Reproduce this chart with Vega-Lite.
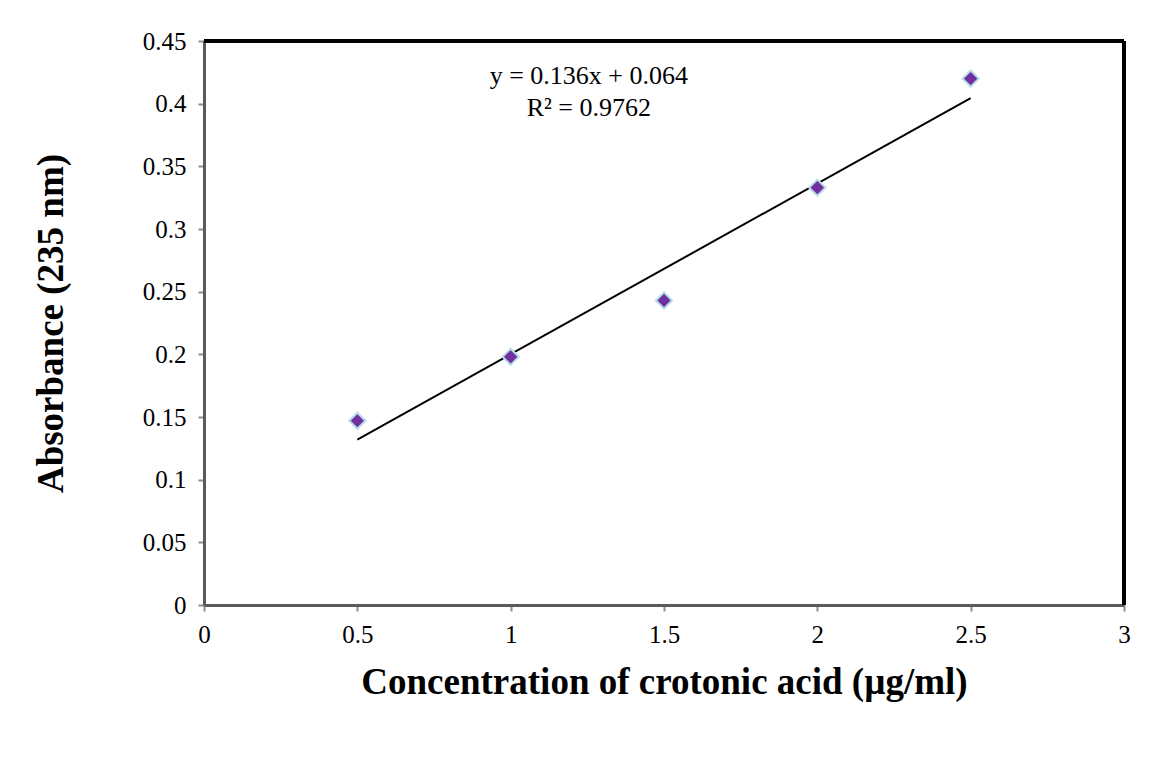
{
  "$schema": "https://vega.github.io/schema/vega-lite/v6.json",
  "width": 920,
  "height": 564,
  "autosize": {"type": "none"},
  "padding": {"left": 204, "top": 41, "right": 26, "bottom": 165},
  "background": "white",
  "config": {
    "view": {"stroke": null},
    "font": "Liberation Serif",
    "axis": {
      "labelFont": "Liberation Serif",
      "titleFont": "Liberation Serif",
      "labelFontSize": 25,
      "labelColor": "black",
      "titleColor": "black",
      "titleFontSize": 37,
      "titleFontWeight": "bold",
      "grid": false,
      "labelFlush": false,
      "domainColor": "#5a5a5a",
      "domainWidth": 3,
      "tickColor": "#8c8c8c",
      "tickWidth": 2,
      "tickSize": 6
    }
  },
  "layer": [
    {
      "data": {
        "values": [
          {"conc": 0.5, "abs": 0.147},
          {"conc": 1.0, "abs": 0.198},
          {"conc": 1.5, "abs": 0.243},
          {"conc": 2.0, "abs": 0.333},
          {"conc": 2.5, "abs": 0.420}
        ]
      },
      "layer": [
        {
          "transform": [{"regression": "abs", "on": "conc", "extent": [0.5, 2.5]}],
          "mark": {"type": "line", "color": "black", "strokeWidth": 2},
          "encoding": {
            "x": {"field": "conc", "type": "quantitative"},
            "y": {"field": "abs", "type": "quantitative"}
          }
        },
        {
          "mark": {"type": "point", "shape": "diamond", "filled": true, "size": 260, "fill": "#7030A0", "stroke": "#B7DEE8", "strokeWidth": 2, "opacity": 1},
          "encoding": {
            "x": {
              "field": "conc", "type": "quantitative",
              "scale": {"domain": [0, 3], "nice": false, "zero": true},
              "axis": {"values": [0, 0.5, 1, 1.5, 2, 2.5, 3], "format": "~g", "labelPadding": 11, "title": "Concentration of crotonic acid (µg/ml)", "titlePadding": 17}
            },
            "y": {
              "field": "abs", "type": "quantitative",
              "scale": {"domain": [0, 0.45], "nice": false},
              "axis": {"values": [0, 0.05, 0.1, 0.15, 0.2, 0.25, 0.3, 0.35, 0.4, 0.45], "format": "~g", "labelPadding": 12, "title": "Absorbance (235 nm)", "titlePadding": 72}
            }
          }
        }
      ]
    },
    {
      "data": {"values": [{}]},
      "mark": {"type": "rule", "color": "black", "strokeWidth": 4},
      "encoding": {"y": {"datum": 0.45}}
    },
    {
      "data": {"values": [{}]},
      "mark": {"type": "rule", "color": "black", "strokeWidth": 4},
      "encoding": {"x": {"datum": 3}}
    },
    {
      "data": {"values": [{}]},
      "mark": {"type": "text", "text": ["y = 0.136x + 0.064", "R² = 0.9762"], "fontSize": 26, "fontWeight": "normal", "font": "Liberation Serif", "color": "black", "align": "center", "baseline": "middle", "lineHeight": 32},
      "encoding": {"x": {"datum": 1.255}, "y": {"datum": 0.422}}
    }
  ]
}
